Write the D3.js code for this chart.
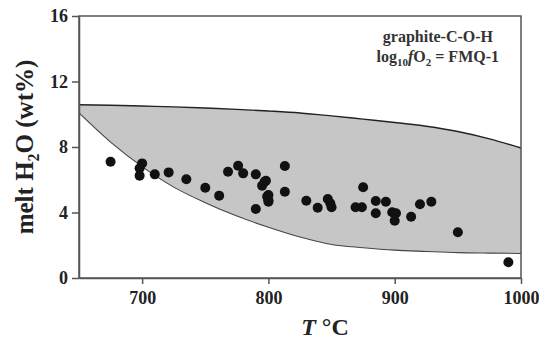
<!DOCTYPE html>
<html>
<head>
<meta charset="utf-8">
<script src="https://cdn.jsdelivr.net/npm/d3@7"></script>
<style>
  body { margin: 0; background: #fff; }
  svg { display: block; font-family: "Liberation Serif", "DejaVu Serif", serif; }
</style>
</head>
<body>
<svg class="chart"></svg>
<script>
// field boundary
var fieldT     = [650, 675, 700, 725, 750, 775, 800, 825, 850, 875, 900, 925, 950, 975, 1000];
var upperWater = [10.58, 10.55, 10.5, 10.45, 10.38, 10.3, 10.2, 10.08, 9.9, 9.7, 9.5, 9.27, 8.95, 8.5, 7.94];
var lowerWater = [10.08, 8.3, 6.8, 5.55, 4.6, 3.78, 3.1, 2.5, 2.05, 1.85, 1.7, 1.62, 1.55, 1.52, 1.5];

// experiments
var sampleT = [675, 700, 698, 698, 710, 721, 735, 750, 761, 768, 776, 780, 790, 797, 795, 790, 799, 800,
               813, 798, 800, 800, 813, 830, 839, 847, 849, 850, 869, 874, 875, 885, 893, 885, 898, 901,
               900, 913, 920, 929, 950, 990];
var sampleWater = [7.1, 7.0, 6.7, 6.25, 6.33, 6.45, 6.03, 5.51, 5.03, 6.49, 6.86, 6.39, 6.33, 5.88, 5.64, 4.21, 4.97, 4.66,
                   6.84, 5.94, 5.07, 4.75, 5.27, 4.72, 4.29, 4.82, 4.56, 4.32, 4.32, 4.32, 5.54, 4.7, 4.66, 3.95, 4.01, 3.95,
                   3.5, 3.74, 4.5, 4.66, 2.79, 0.96];

var xTicks = [700, 800, 900, 1000];
var yTicks = [0, 4, 8, 12, 16];

var margin = {top: 16, right: 18, bottom: 62, left: 79},
    width = 539 - margin.left - margin.right,
    height = 340 - margin.top - margin.bottom;

var svg = d3.select(".chart")
    .attr("width", 539)
    .attr("height", 340);

var g = svg.append("g")
    .attr("transform", "translate(" + margin.left + "," + margin.top + ")");

var x = d3.scaleLinear().domain([650, 1000]).range([0, width]);
var y = d3.scaleLinear().domain([0, 16]).range([height, 0]);

var field = fieldT.map(function(t, i) { return {t: t, hi: upperWater[i], lo: lowerWater[i]}; });

g.append("path")
    .datum(field)
    .attr("fill", "#c6c6c6")
    .attr("d", d3.area()
        .x(function(d) { return x(d.t); })
        .y0(function(d) { return y(d.lo); })
        .y1(function(d) { return y(d.hi); })
        .curve(d3.curveMonotoneX));

g.append("path")
    .datum(field)
    .attr("fill", "none")
    .attr("stroke", "#222")
    .attr("stroke-width", 1.4)
    .attr("d", d3.line()
        .x(function(d) { return x(d.t); })
        .y(function(d) { return y(d.hi); })
        .curve(d3.curveMonotoneX));

g.append("path")
    .datum(field)
    .attr("fill", "none")
    .attr("stroke", "#444")
    .attr("stroke-width", 1.1)
    .attr("d", d3.line()
        .x(function(d) { return x(d.t); })
        .y(function(d) { return y(d.lo); })
        .curve(d3.curveMonotoneX));

g.selectAll("circle")
    .data(sampleT)
    .enter().append("circle")
    .attr("cx", function(d) { return x(d); })
    .attr("cy", function(d, i) { return y(sampleWater[i]); })
    .attr("r", 5)
    .attr("fill", "#111");

// frame
g.append("rect")
    .attr("width", width)
    .attr("height", height)
    .attr("fill", "none")
    .attr("stroke", "#555")
    .attr("stroke-width", 1.5);

var xAxis = g.append("g")
    .attr("transform", "translate(0," + height + ")")
    .call(d3.axisBottom(x).tickValues(xTicks).tickFormat(d3.format("d"))
        .tickSize(6).tickSizeOuter(0).tickPadding(7));

var yAxis = g.append("g")
    .call(d3.axisLeft(y).tickValues(yTicks).tickSize(7).tickSizeOuter(0).tickPadding(4));

[xAxis, yAxis].forEach(function(a) {
    a.select(".domain").attr("stroke", "#555").attr("stroke-width", 1.5);
    a.selectAll(".tick line").attr("stroke", "#555").attr("stroke-width", 1.5);
    a.selectAll(".tick text")
        .attr("fill", "#222")
        .style("font-family", "'Liberation Serif', serif")
        .style("font-weight", "bold")
        .style("font-size", "18px");
});

// axis titles
var xt = svg.append("text")
    .attr("x", 325)
    .attr("y", 335)
    .attr("text-anchor", "middle")
    .attr("fill", "#222")
    .style("font-weight", "bold")
    .style("font-size", "24px");
xt.append("tspan").style("font-style", "italic").text("T");
xt.append("tspan").text(" °C");

var yt = svg.append("text")
    .attr("transform", "translate(33,147) rotate(-90)")
    .attr("text-anchor", "middle")
    .attr("fill", "#222")
    .style("font-weight", "bold")
    .style("font-size", "25px");
yt.append("tspan").text("melt H");
yt.append("tspan").attr("dy", 6).style("font-size", "16px").text("2");
yt.append("tspan").attr("dy", -6).text("O (wt%)");

// annotation
svg.append("text")
    .attr("x", 493)
    .attr("y", 42)
    .attr("text-anchor", "end")
    .attr("fill", "#333")
    .style("font-weight", "bold")
    .style("font-size", "16px")
    .text("graphite-C-O-H");

var ann = svg.append("text")
    .attr("x", 499)
    .attr("y", 62)
    .attr("text-anchor", "end")
    .attr("fill", "#333")
    .style("font-weight", "bold")
    .style("font-size", "16px");
ann.append("tspan").text("log");
ann.append("tspan").attr("dy", 4).style("font-size", "11px").text("10");
ann.append("tspan").attr("dy", -4).style("font-style", "italic").text("f");
ann.append("tspan").text("O");
ann.append("tspan").attr("dy", 4).style("font-size", "11px").text("2");
ann.append("tspan").attr("dy", -4).text(" = FMQ-1");
</script>
</body>
</html>
